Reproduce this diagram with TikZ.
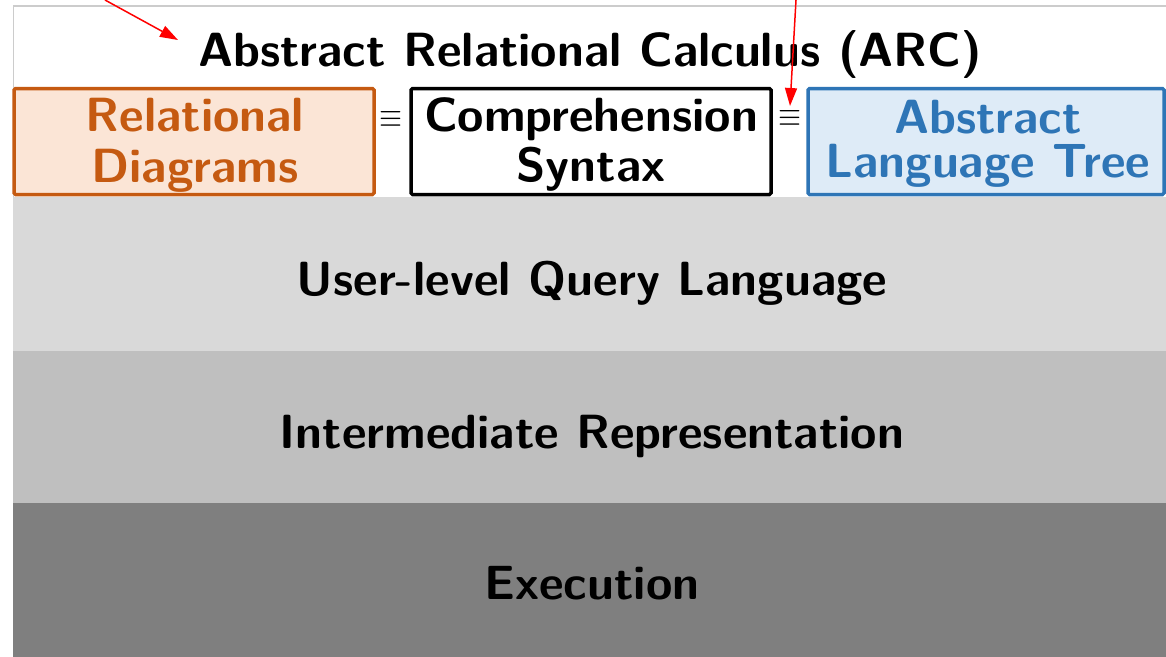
\documentclass[tikz,border=0pt]{standalone}
\usepackage{fontspec}
\usetikzlibrary{arrows.meta}
\definecolor{orfill}{HTML}{FBE5D6}
\definecolor{ordraw}{HTML}{C55A11}
\definecolor{blfill}{HTML}{DEEBF7}
\definecolor{bldraw}{HTML}{2E75B6}
\definecolor{band1}{HTML}{D9D9D9}
\definecolor{band2}{HTML}{BFBFBF}
\definecolor{band3}{HTML}{7F7F7F}
\definecolor{frame}{HTML}{CCCCCC}
\begin{document}
\begin{tikzpicture}[x=1pt,y=-1pt,
  big/.style={font=\sffamily\bfseries\fontsize{48}{46}\selectfont, inner sep=0pt, anchor=base},
  boxed/.style={draw, line width=3.5pt, rounded corners=1.5pt, inner sep=0pt, minimum height=106pt},
  band/.style={draw=none, inner sep=0pt, minimum width=1153pt, minimum height=154pt, anchor=north west},
  redarrow/.style={red, line width=1.5pt, -{Triangle[length=18pt,width=12pt]}},
  eqv/.style={inner sep=0pt}
]
\useasboundingbox (0,0) rectangle (1166,656);
\fill[white] (0,0) rectangle (1166,656);
\draw[frame, line width=1.2pt] (1170,6) -- (13.5,6) -- (13.5,198);
\node[band, fill=band1] (ulq) at (13,197) {};
\node[band, fill=band2] (ir) at (13,351) {};
\node[band, fill=band3] (ex) at (13,503) {};
\node[big] (ulqt) at (592,295) {User-level Query Language};
\node[big] (irt) at (592,448) {Intermediate Representation};
\node[big] (ext) at (592,599) {Execution};
\node[big] (arc) at (590,66) {Abstract Relational Calculus (ARC)};
\node[boxed, draw=ordraw, fill=orfill, minimum width=360pt] (rd) at (194,141.5) {};
\node[boxed, draw=black, fill=white, minimum width=360pt] (cs) at (591,141.5) {};
\node[boxed, draw=bldraw, fill=blfill, minimum width=356pt] (alt) at (986,141.5) {};
\node[big, text=ordraw] (rd1) at (195,131) {Relational};
\node[big, text=ordraw] (rd2) at (195,182) {Diagrams};
\node[big] (cs1) at (591,131) {Comprehension};
\node[big] (cs2) at (591,181) {Syntax};
\node[big, text=bldraw] (alt1) at (988,133) {Abstract};
\node[big, text=bldraw] (alt2) at (988,177) {Language Tree};
\node[eqv] (e1) at (391,119) {\resizebox{23pt}{16pt}{$\equiv$}};
\node[eqv] (e2) at (790,118) {\resizebox{23pt}{16pt}{$\equiv$}};
\coordinate (s1) at (105,0);
\coordinate (t1) at (178,40);
\coordinate (s2) at (796,0);
\coordinate (t2) at (790,106);
\draw[redarrow] (s1) -- (t1);
\draw[redarrow] (s2) -- (t2);
\end{tikzpicture}
\end{document}
